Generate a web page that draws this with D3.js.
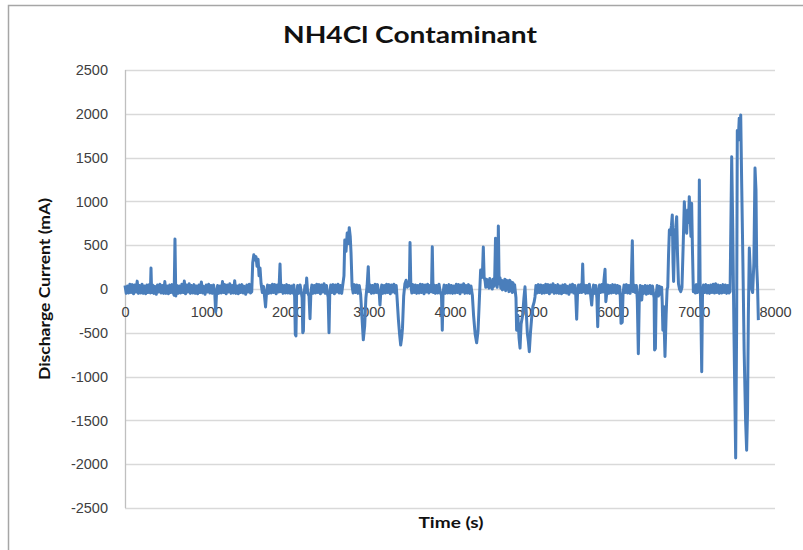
<!DOCTYPE html>
<html>
<head>
<meta charset="utf-8">
<script src="https://cdn.jsdelivr.net/npm/d3@7/dist/d3.min.js"></script>
<style>
  body { margin: 0; background: #fff; }
  svg { display: block; font-family: Lato, "Open Sans", sans-serif; }
</style>
</head>
<body>
<div id="chartId"></div>
<script>

// Discharge current readings, [time (s), current (mA)], split into runs
const run1 = [[0,40],[15,-50],[30,35],[45,-45],[60,55],[75,-40],[90,50],[105,-55],[120,45],[135,-35],[150,90],[165,-50],[180,40],[195,-45],[210,55],[225,-50],[240,35],[255,-55],[270,45],[285,-40],[300,50],[312,-45],[320,240],[328,-40],
[340,45],[355,-50],[370,30],[385,-60],[400,45],[415,-35],[430,55],[445,-45],[460,40],[475,-50],[490,85],[505,-50],[520,35],[535,-55],[550,45],[565,-40],[580,50],[595,-45],[605,-70],[615,570],[625,-80],
[640,40],[655,-50],[670,35],[685,-45],[700,55],[715,-40],[730,90],[745,-55],[760,45],[775,-35],[790,60],[805,-50],[820,40],[835,-45],[850,50],[865,-50],[880,35],[895,-55],[910,45],[925,-40],[940,80],[955,-45],[970,30],[985,-60],[1000,45],[1015,-35],[1030,55],[1045,-45],[1060,40],[1075,-50],[1090,45],[1105,-55],[1116,-260],[1127,-40],
[1140,40],[1155,-50],[1170,35],[1185,-45],[1200,85],[1215,-40],[1230,50],[1245,-55],[1260,45],[1275,-35],[1290,60],[1305,-50],[1320,40],[1335,-45],[1350,95],[1365,-50],[1380,35],[1395,-55],[1410,45],[1425,-40],[1440,50],[1455,-45],[1470,30],[1485,-60],[1500,45],[1515,-35],[1530,55],[1545,-45],[1560,-30],[1572,300],[1585,390],[1600,330],[1612,370],[1625,260],[1638,340],[1650,150],[1662,240],[1675,60],[1690,-40],[1705,30],[1718,-90],[1730,-205],[1742,-40],
[1755,45],[1770,-50],[1785,40],[1800,-45],[1815,55],[1830,-40],[1845,50],[1860,-55],[1875,45],[1890,-35],[1898,60],[1908,285],[1918,-30],[1930,45],[1945,-50],[1960,40],[1975,-45],[1990,50]];

const run2 = [[2005,-45],[2020,40],[2035,-50],[2050,35],[2065,-45],[2078,45],[2088,-90],[2096,-520],[2104,-535],[2112,-70],[2125,40],[2140,-50],[2155,45],[2170,-40],[2180,-100],[2188,-500],[2196,-480],[2204,-60],[2215,40],[2226,-40],[2236,125],[2248,-40],[2265,-80],[2277,-340],[2288,-40],
[2300,45],[2315,-50],[2330,40],[2345,-45],[2360,55],[2375,-40],[2390,50],[2405,-55],[2420,45],[2435,-35],[2450,60],[2465,-50],[2480,40],[2492,-55],[2500,-90],[2511,-500],[2520,-60],
[2532,45],[2547,-40],[2562,50],[2577,-55],[2592,45],[2607,-35],[2622,55],[2637,-45],[2652,40],[2667,-50],[2680,45],[2695,150],[2705,560],[2720,430],[2735,640],[2750,520],[2760,700],[2772,600],[2782,410],[2795,30],
[2808,-45],[2823,50],[2838,-40],[2853,45],[2868,-50],[2883,40],[2900,-60],[2915,-300],[2933,-580],[2950,-420],[2965,-100],[2980,40],[2994,255],[3005,-30],
[3018,45],[3033,-50],[3048,40],[3063,-45],[3078,55],[3093,-40],[3108,50],[3120,-45],[3130,-60],[3138,-183],[3148,-40],
[3160,45],[3175,-50],[3190,40],[3205,-45],[3220,55],[3235,-40],[3250,50],[3265,-55],[3280,45],[3295,-35],[3310,55],[3325,-45],[3338,40],[3345,-50],[3365,-350],[3380,-520],[3393,-640],[3405,-560],[3415,-450],[3430,-80],[3445,60],[3460,100],[3475,20],[3490,80],[3500,40],[3508,530],[3518,40],
[3530,-45],[3545,50],[3560,-40],[3575,45],[3590,-50],[3605,40],[3620,-45],[3635,55],[3650,-40],[3665,50],[3680,-55],[3695,45],[3710,-35],[3725,55],[3740,-45],[3755,40],[3772,-30],[3782,483],[3792,-40],
[3805,45],[3820,-50],[3835,40],[3850,-45],[3865,55],[3880,-40],[3895,-70],[3905,-470],[3915,-40],
[3928,45],[3943,-50],[3958,40],[3973,-45],[3988,50]];

const run3 = [[4003,-45],[4018,40],[4033,-50],[4048,35],[4063,-45],[4078,55],[4093,-40],[4108,50],[4123,-55],[4138,45],[4153,-35],[4168,60],[4183,-50],[4198,40],[4213,-45],[4228,50],[4243,-50],[4258,35],[4275,-70],[4290,-300],[4310,-520],[4328,-613],[4345,-480],[4360,-150],[4377,217],[4390,130],[4400,200],[4410,480],[4420,140],[4432,90],
[4440,20],[4450,110],[4460,30],[4470,100],[4480,10],[4490,120],[4500,20],[4510,90],[4520,0],[4530,110],[4540,30],[4550,120],[4560,580],[4570,80],[4580,20],[4588,100],[4595,720],[4605,60],
[4615,130],[4625,10],[4635,100],[4645,-10],[4655,90],[4665,0],[4675,110],[4685,-20],[4695,100],[4705,0],[4715,90],[4725,-30],[4735,100],[4745,-20],[4755,80],[4765,-40],[4775,70],[4785,-30],[4795,50],[4805,-40],
[4812,-100],[4820,-470],[4835,-300],[4850,-560],[4862,-675],[4875,-400],[4894,-300],[4910,-100],[4923,25],[4935,-200],[4952,-505],[4965,-600],[4976,-715],[4990,-500],[5005,-330],[5020,-200],[5035,-150],[5046,-90],
[5058,40],[5073,-45],[5088,50],[5103,-40],[5118,45],[5133,-50],[5148,40],[5163,-45],[5178,55],[5193,-40],[5208,50],[5223,-55],[5238,45],[5253,-35],[5268,60],[5283,-50],[5298,40],[5313,-45],[5328,50],[5343,-50],[5358,35],[5373,-55],[5388,45],[5403,-40],[5418,50],[5433,-45],[5448,30],[5463,-60],[5478,45],[5493,-35],[5508,55],[5523,-45],[5538,40],[5548,-80],[5559,-346],[5570,-40],
[5582,45],[5597,-40],[5610,50],[5622,-40],[5633,285],[5643,-30],
[5655,45],[5670,-50],[5685,40],[5700,-45],[5715,55],[5730,-60],[5744,-183],[5755,-40],
[5767,45],[5782,-50],[5795,40],[5808,-100],[5818,-430],[5828,-60],
[5840,45],[5855,-40],[5870,50],[5883,-35],[5895,100],[5908,225],[5918,-145],[5930,-40],
[5942,45],[5957,-50],[5972,40],[5987,-45]];

const run4 = [[6002,50],[6017,-40],[6032,45],[6047,-50],[6062,40],[6077,-45],[6088,30],[6095,-80],[6105,-392],[6120,-380],[6130,-50],
[6142,45],[6157,-40],[6172,50],[6187,-45],[6202,40],[6217,-50],[6230,40],[6244,551],[6254,-30],
[6266,45],[6281,-40],[6294,40],[6305,-120],[6318,-740],[6330,-100],
[6342,40],[6360,-125],[6372,30],[6387,-50],[6402,40],[6417,-60],[6432,35],[6447,-50],[6462,40],[6477,-55],[6492,35],[6505,-60],[6512,-100],[6518,-695],[6528,-680],[6538,-60],
[6550,40],[6565,-80],[6580,30],[6592,-60],[6605,20],[6612,-150],[6620,-470],[6630,-200],[6646,-770],[6660,-300],[6672,0],[6680,20],[6690,400],[6700,674],[6712,620],[6725,720],[6736,845],[6745,300],[6752,85],[6765,600],[6778,700],[6790,826],[6800,400],[6812,60],[6825,0],[6840,-30],[6855,20],[6870,500],[6884,997],[6898,700],[6913,636],[6925,902],[6935,760],[6945,1054],[6955,850],[6965,600],[6974,978],[6984,450],[6995,-30],
[7007,40],[7020,-45],[7033,50],[7046,-40],[7060,-20],[7069,1245],[7078,100],[7088,-300],[7098,-945],[7108,-40],
[7120,45],[7135,-40],[7150,50],[7165,-45],[7180,40],[7195,-50],[7210,45],[7225,-40],[7240,55],[7255,-45],[7270,60],[7285,-40],[7300,45],[7315,-50],[7330,40],[7345,-45],[7360,50],[7375,-40],[7390,45],[7405,-50],[7420,40],[7435,-45],[7447,-30],
[7467,1510],[7480,700],[7495,-500],[7516,-1930],[7528,-400],[7536,1810],[7548,1700],[7560,1950],[7570,1750],[7578,1986],[7590,1200],[7605,300],[7620,-700],[7638,-1500],[7651,-1840],[7662,-1400],[7672,-300],[7684,468],[7698,150],[7713,0],[7725,-40],[7740,300],[7754,1380],[7766,1130],[7775,255],[7785,40],[7795,-355]];

const xTicks = [0, 1000, 2000, 3000, 4000, 5000, 6000, 7000, 8000];
const yTicks = [-2500, -2000, -1500, -1000, -500, 0, 500, 1000, 1500, 2000, 2500];

const titleText = 'NH4Cl Contaminant';
const xTitle = 'Time (s)';
const yTitle = 'Discharge Current (mA)';

// plot area, in px
const W = 803, H = 550;
const plotLeft = 125, plotRight = 775, plotTop = 70, plotBottom = 508;
const lineColor = '#4a7ebb';
const gridColor = '#d9d9d9';
const textColor = '#404040';

const x = d3.scaleLinear().domain([0, 8000]).range([plotLeft, plotRight]);
const y = d3.scaleLinear().domain([-2500, 2500]).range([plotBottom, plotTop]);

const svg = d3.select('#chartId').append('svg')
  .attr('width', W)
  .attr('height', H);

// chart frame (only the top/left edges fall inside the picture)
svg.append('rect')
  .attr('x', 8.5).attr('y', 5.5)
  .attr('width', 900).attr('height', 700)
  .attr('fill', 'none')
  .attr('stroke', '#a6a6a6')
  .attr('stroke-width', 1.5);

// horizontal gridlines
svg.append('g')
  .selectAll('line')
  .data(yTicks).enter()
  .append('line')
  .attr('x1', plotLeft).attr('x2', plotRight)
  .attr('y1', d => Math.round(y(d)) + 0.5)
  .attr('y2', d => Math.round(y(d)) + 0.5)
  .attr('stroke', gridColor)
  .attr('stroke-width', 1.3);

// vertical axis line
svg.append('line')
  .attr('x1', plotLeft + 0.5).attr('x2', plotLeft + 0.5)
  .attr('y1', plotTop).attr('y2', plotBottom)
  .attr('stroke', '#bfbfbf')
  .attr('stroke-width', 1.3);

// y axis labels
const yAxis = d3.axisLeft(y).tickValues(yTicks).tickSize(0).tickPadding(17)
  .tickFormat(d => String(d));
svg.append('g')
  .attr('transform', 'translate(' + plotLeft + ',0)')
  .call(yAxis)
  .call(g => g.select('.domain').remove())
  .selectAll('text')
  .style('font-size', '14.5px')
  .attr('fill', textColor);

// x axis labels sit just under the zero line
const xAxis = d3.axisBottom(x).tickValues(xTicks).tickSize(0).tickPadding(18)
  .tickFormat(d => String(d));
svg.append('g')
  .attr('transform', 'translate(0,' + y(0) + ')')
  .call(xAxis)
  .call(g => g.select('.domain').remove())
  .selectAll('text')
  .style('font-size', '14.5px')
  .attr('fill', textColor);

// the trace
const data = run1.concat(run2, run3, run4);
const line = d3.line().x(d => x(d[0])).y(d => y(d[1]));
svg.append('path')
  .datum(data)
  .attr('fill', 'none')
  .attr('stroke', lineColor)
  .attr('stroke-width', 3)
  .attr('stroke-linejoin', 'round')
  .attr('d', line);

// titles
svg.append('text')
  .attr('x', 410).attr('y', 43)
  .attr('text-anchor', 'middle')
  .attr('textLength', 254)
  .attr('lengthAdjust', 'spacingAndGlyphs')
  .style('font-size', '22px')
  .style('font-weight', 'bold')
  .attr('fill', '#111')
  .text(titleText);

svg.append('text')
  .attr('x', 451).attr('y', 528)
  .attr('text-anchor', 'middle')
  .attr('textLength', 65)
  .attr('lengthAdjust', 'spacingAndGlyphs')
  .style('font-size', '16px')
  .style('font-weight', 'bold')
  .attr('fill', '#111')
  .text(xTitle);

svg.append('text')
  .attr('transform', 'translate(50,289) rotate(-90)')
  .attr('text-anchor', 'middle')
  .attr('textLength', 182)
  .attr('lengthAdjust', 'spacingAndGlyphs')
  .style('font-size', '16px')
  .style('font-weight', 'bold')
  .attr('fill', '#111')
  .text(yTitle);

</script>
</body>
</html>
